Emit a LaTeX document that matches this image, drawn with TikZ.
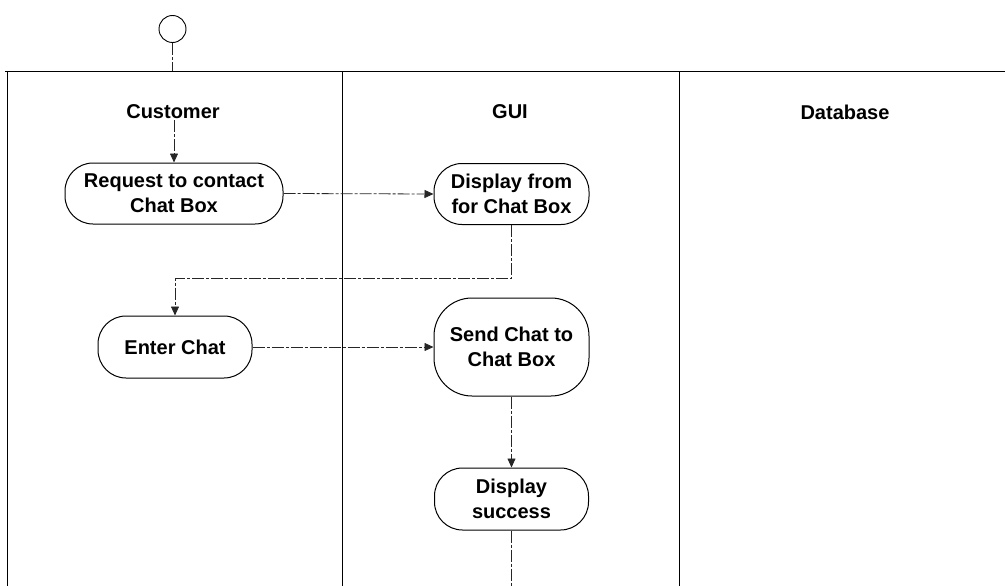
\documentclass[tikz,border=0pt]{standalone}
\usepackage{fontspec}
\setmainfont{Liberation Sans}
\usetikzlibrary{arrows.meta}
\begin{document}
\begin{tikzpicture}[x=1pt,y=-1pt,
  act/.style={draw, line width=1pt, rounded corners=28pt, align=center, inner sep=0pt,
              font=\bfseries\fontsize{20}{25}\selectfont},
  lane/.style={line width=1.1pt},
  flowline/.style={line width=0.8pt, black!85, dash pattern=on 12pt off 2pt on 3pt off 2pt},
  flow/.style={flowline, -{Triangle[length=9pt,width=8pt]}},
  lbl/.style={font=\bfseries\fontsize{20}{25}\selectfont, inner sep=1pt}]
\useasboundingbox (0,0) rectangle (1005,586);

% swimlanes
\draw[lane] (5,71.5) -- (1005,71.5);
\draw[lane] (7.5,71.5) -- (7.5,586);
\draw[lane] (342.5,71.5) -- (342.5,586);
\draw[lane] (679.5,71.5) -- (679.5,586);

\node[lbl] (cust) at (173,112) {Customer};
\node[lbl] (gui) at (510,112) {GUI};
\node[lbl] (db) at (845,112) {Database};

% start
\node[circle, draw, line width=0.9pt, minimum size=27pt, inner sep=0pt] (start) at (172.5,29) {};
\coordinate (topin) at (172.5,71.5);

% activities
\node[act, minimum width=218pt, minimum height=61pt] (req) at (174,193.5) {Request to contact\\Chat Box};
\node[act, minimum width=155pt, minimum height=61pt] (disp) at (511.5,194) {Display from\\for Chat Box};
\node[act, minimum width=154pt, minimum height=62pt] (enter) at (175,347) {Enter Chat};
\node[act, minimum width=155pt, minimum height=98pt, rounded corners=38pt] (send) at (511.5,347) {Send Chat to\\Chat Box};
\node[act, minimum width=154pt, minimum height=62pt] (succ) at (511.5,499) {Display\\success};
\coordinate (bottom) at (511.5,586);

% flows
\draw[flowline] (start) -- (topin);
\draw[flow] (cust.south -| req.north) -- (req.north);
\draw[flow] (req.east) -- (disp.west);
\draw[flow] (disp.south) -- ++(0,53) -| (enter.north);
\draw[flow] (enter.east) -- (send.west);
\draw[flow] (send.south) -- (succ.north);
\draw[flowline] (succ.south) -- (bottom);
\end{tikzpicture}
\end{document}
